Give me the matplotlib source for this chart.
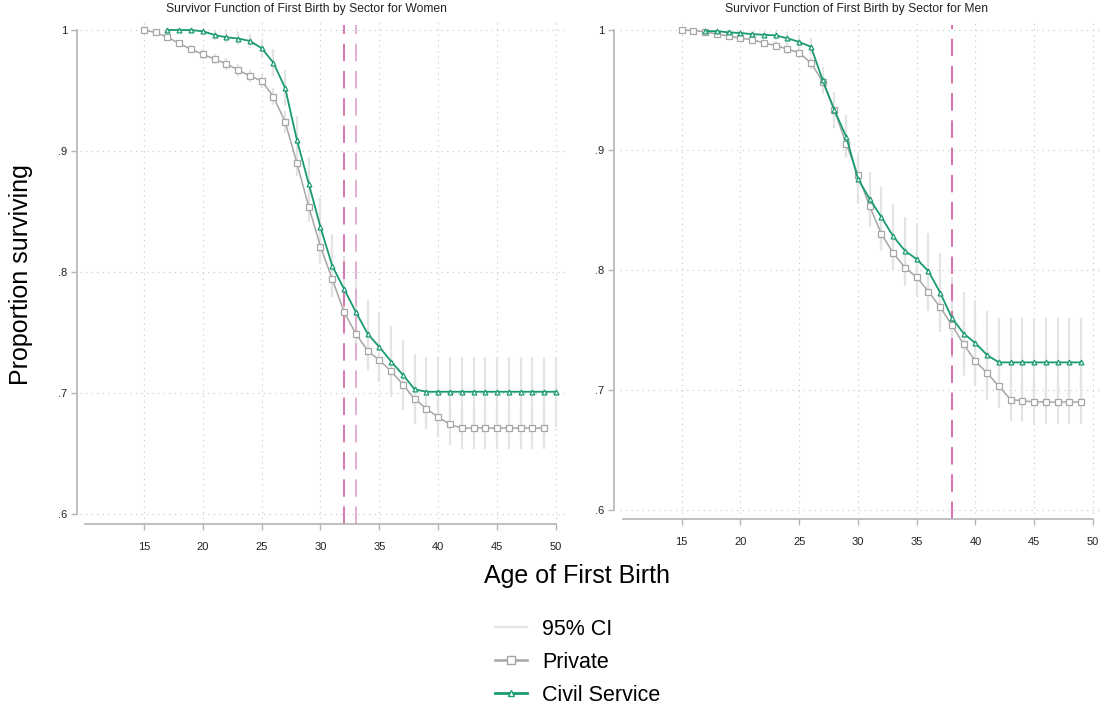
import matplotlib
matplotlib.use("Agg")
import matplotlib.pyplot as plt
from matplotlib.lines import Line2D

plt.rcParams["font.family"] = ["Liberation Sans", "DejaVu Sans"]

# ages and survivor values
age_w_priv = [15, 16, 17, 18, 19, 20, 21, 22, 23, 24, 25, 26, 27, 28, 29, 30, 31, 32,
              33, 34, 35, 36, 37, 38, 39, 40, 41, 42, 43, 44, 45, 46, 47, 48, 49]
surv_w_priv = [1.0, 0.998, 0.994, 0.989, 0.984, 0.980, 0.976, 0.972, 0.967, 0.962, 0.958,
               0.945, 0.924, 0.890, 0.854, 0.821, 0.794, 0.767, 0.749, 0.735, 0.727, 0.718,
               0.707, 0.695, 0.687, 0.680, 0.674, 0.671, 0.671, 0.671, 0.671, 0.671, 0.671,
               0.671, 0.671]
ci_w_priv = [0, 0.001, 0.002, 0.003, 0.003, 0.004, 0.004, 0.005, 0.005, 0.005, 0.006,
             0.007, 0.009, 0.011, 0.013, 0.014, 0.015, 0.016, 0.016, 0.017, 0.017, 0.017,
             0.017, 0.017, 0.017, 0.017, 0.017, 0.017, 0.017, 0.017, 0.017, 0.017, 0.017,
             0.017, 0.017]

age_w_civ = [17, 18, 19, 20, 21, 22, 23, 24, 25, 26, 27, 28, 29, 30, 31, 32, 33, 34, 35,
             36, 37, 38, 39, 40, 41, 42, 43, 44, 45, 46, 47, 48, 49, 50]
surv_w_civ = [1.0, 1.0, 1.0, 0.999, 0.996, 0.994, 0.993, 0.991, 0.985, 0.973, 0.952, 0.909,
              0.873, 0.837, 0.805, 0.786, 0.767, 0.749, 0.738, 0.726, 0.715, 0.703, 0.701,
              0.701, 0.701, 0.701, 0.701, 0.701, 0.701, 0.701, 0.701, 0.701, 0.701, 0.701]
ci_w_civ = [0.001, 0.001, 0.001, 0.002, 0.004, 0.005, 0.005, 0.006, 0.008, 0.011, 0.015,
            0.020, 0.022, 0.024, 0.026, 0.027, 0.028, 0.028, 0.029, 0.029, 0.029, 0.029,
            0.029, 0.029, 0.029, 0.029, 0.029, 0.029, 0.029, 0.029, 0.029, 0.029, 0.029, 0.029]

age_m_priv = [15, 16, 17, 18, 19, 20, 21, 22, 23, 24, 25, 26, 27, 28, 29, 30, 31, 32,
              33, 34, 35, 36, 37, 38, 39, 40, 41, 42, 43, 44, 45, 46, 47, 48, 49]
surv_m_priv = [1.0, 0.9995, 0.9985, 0.9965, 0.995, 0.993, 0.992, 0.989, 0.987, 0.984,
               0.981, 0.9725, 0.957, 0.933, 0.905, 0.879, 0.853, 0.830, 0.814, 0.802,
               0.794, 0.782, 0.769, 0.754, 0.738, 0.724, 0.714, 0.703, 0.692, 0.691,
               0.690, 0.690, 0.690, 0.690, 0.690]
ci_m_priv = [0, 0.001, 0.001, 0.002, 0.002, 0.003, 0.003, 0.003, 0.004, 0.004, 0.004,
             0.005, 0.007, 0.009, 0.011, 0.012, 0.013, 0.014, 0.015, 0.015, 0.016, 0.016,
             0.017, 0.018, 0.018, 0.018, 0.018, 0.018, 0.018, 0.018, 0.018, 0.018, 0.018,
             0.018, 0.018]

age_m_civ = [17, 18, 19, 20, 21, 22, 23, 24, 25, 26, 27, 28, 29, 30, 31, 32, 33, 34, 35,
             36, 37, 38, 39, 40, 41, 42, 43, 44, 45, 46, 47, 48, 49]
surv_m_civ = [0.999, 0.999, 0.998, 0.9975, 0.9965, 0.996, 0.9955, 0.993, 0.990, 0.986,
              0.958, 0.933, 0.911, 0.876, 0.859, 0.844, 0.828, 0.816, 0.809, 0.799, 0.781,
              0.760, 0.747, 0.739, 0.729, 0.723, 0.723, 0.723, 0.723, 0.723, 0.723, 0.723,
              0.723]
ci_m_civ = [0.001, 0.001, 0.002, 0.002, 0.003, 0.003, 0.004, 0.005, 0.006, 0.007, 0.011,
            0.015, 0.018, 0.021, 0.023, 0.025, 0.027, 0.028, 0.030, 0.032, 0.033, 0.034,
            0.035, 0.036, 0.037, 0.037, 0.037, 0.037, 0.037, 0.037, 0.037, 0.037, 0.037]

xticks = [15, 20, 25, 30, 35, 40, 45, 50]
yticks = [0.6, 0.7, 0.8, 0.9, 1.0]
ytick_labels = [".6", ".7", ".8", ".9", "1"]

vlines_w = [32, 33]
vlines_w_colors = ["#d877b3", "#e3aed1"]
vlines_m = [38]
vlines_m_colors = ["#d86fb0"]

gray = "#a6a6a6"
green = "#1a9a72"
ci_col = "#e4e4e4"
axis_col = "#b4b4b4"

W, H = 1101, 704
fig = plt.figure(figsize=(W / 100, H / 100), dpi=100)


def px_axes(x0, x1, ytop, ybot):
    return fig.add_axes([x0 / W, 1 - ybot / H, (x1 - x0) / W, (ybot - ytop) / H])


def draw_panel(ax, ap, sp, cp, ac, sc, cc, vx, vcol, xlim, ylim, yout):
    ax.set_xlim(*xlim)
    ax.set_ylim(*ylim)
    for x in xticks:
        ax.axvline(x, color="#c4c4c4", lw=0.8, ls=(0, (1, 4)), zorder=0)
    for y in yticks:
        ax.axhline(y, color="#c4c4c4", lw=0.8, ls=(0, (1, 4)), zorder=0)
    # confidence intervals
    ax.vlines(ac, [s - c for s, c in zip(sc, cc)], [s + c for s, c in zip(sc, cc)],
              color=ci_col, lw=1.6, zorder=1)
    ax.vlines(ap, [s - c for s, c in zip(sp, cp)], [s + c for s, c in zip(sp, cp)],
              color=ci_col, lw=1.6, zorder=1)
    for x, c in zip(vx, vcol):
        ax.axvline(x, ymax=0.99, color=c, lw=1.4, ls=(0, (9, 5)), zorder=2)
    ax.plot(ap, sp, color=gray, lw=1.1, marker="s", ms=4, mfc="white", mec=gray,
            mew=0.9, zorder=3)
    ax.plot(ac, sc, color=green, lw=1.3, marker="^", ms=3.5, mfc="white", mec=green,
            mew=0.9, zorder=4)

    for s in ["top", "right"]:
        ax.spines[s].set_visible(False)
    ax.spines["left"].set_position(("outward", yout))
    ax.spines["left"].set_bounds(0.6, 1.0)
    ax.spines["bottom"].set_bounds(10, 50)
    for s in ["left", "bottom"]:
        ax.spines[s].set_color(axis_col)
        ax.spines[s].set_linewidth(1.2)
    ax.set_xticks(xticks)
    ax.set_xticklabels([str(x) for x in xticks], fontsize=8)
    ax.set_yticks(yticks)
    ax.set_yticklabels(ytick_labels, fontsize=8)
    ax.tick_params(axis="both", colors=axis_col, labelcolor="#222222", length=4, width=1)
    ax.tick_params(axis="x", pad=9)
    ax.tick_params(axis="y", pad=3)
    ax.patch.set_alpha(0)


axL = px_axes(80, 565, 20, 524)
draw_panel(axL, age_w_priv, surv_w_priv, ci_w_priv, age_w_civ, surv_w_civ, ci_w_civ,
           vlines_w, vlines_w_colors, (9.575, 50.765), (0.5917, 1.0083), 2.2)

axR = px_axes(620, 1100, 20, 519)
draw_panel(axR, age_m_priv, surv_m_priv, ci_m_priv, age_m_civ, surv_m_civ, ci_m_civ,
           vlines_m, vlines_m_colors, (9.744, 50.6), (0.5925, 1.0083), 4.3)

fig.text(306 / W, 1 - 9 / H, "Survivor Function of First Birth by Sector for Women",
         ha="center", va="center", fontsize=8.7, color="#222222")
fig.text(857 / W, 1 - 9 / H, "Survivor Function of First Birth by Sector for Men",
         ha="center", va="center", fontsize=8.7, color="#222222")

fig.text(21 / W, 1 - 275 / H, "Proportion surviving", rotation=90, ha="center",
         va="center", fontsize=18)
fig.text(577 / W, 1 - 576 / H, "Age of First Birth", ha="center", va="center",
         fontsize=18)

handles = [
    Line2D([], [], color=ci_col, lw=1.6),
    Line2D([], [], color=gray, lw=1.8, marker="s", ms=5.5, mfc="white", mec=gray),
    Line2D([], [], color=green, lw=2, marker="^", ms=5, mfc="white", mec=green),
]
fig.legend(handles, ["95% CI", "Private", "Civil Service"], loc="upper left",
           bbox_to_anchor=(495 / W, 1 - 619 / H), frameon=False, fontsize=15.5,
           borderpad=0, borderaxespad=0, handlelength=1.5, handletextpad=0.7,
           labelspacing=0.55)

fig.savefig("out.png", dpi=100)
